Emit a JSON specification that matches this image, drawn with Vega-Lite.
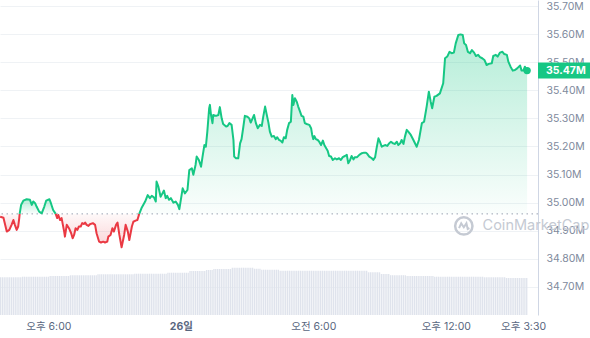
{
"$schema":"https://vega.github.io/schema/vega-lite/v6.json",
"width":538,"height":315,
"autosize":{"type":"none"},
"padding":{"left":0,"top":0,"right":52,"bottom":23},
"background":"white",
"config":{"view":{"stroke":null},"font":"Inter"},
"datasets":{
"price":[
{"t":"2024-01-25T15:49","p":34.950,"s":"r1"},
{"t":"2024-01-25T15:58","p":34.946,"s":"r1"},
{"t":"2024-01-25T16:07","p":34.897,"s":"r1"},
{"t":"2024-01-25T16:14","p":34.903,"s":"r1"},
{"t":"2024-01-25T16:20","p":34.921,"s":"r1"},
{"t":"2024-01-25T16:25","p":34.938,"s":"r1"},
{"t":"2024-01-25T16:29","p":34.921,"s":"r1"},
{"t":"2024-01-25T16:34","p":34.903,"s":"r1"},
{"t":"2024-01-25T16:38","p":34.915,"s":"r1"},
{"t":"2024-01-25T16:41","p":34.946,"s":"r1"},
{"t":"2024-01-25T16:42","p":34.960,"s":"r1"},
{"t":"2024-01-25T16:42","p":34.960,"s":"g1"},
{"t":"2024-01-25T16:46","p":34.992,"s":"g1"},
{"t":"2024-01-25T16:52","p":35.007,"s":"g1"},
{"t":"2024-01-25T17:01","p":35.012,"s":"g1"},
{"t":"2024-01-25T17:10","p":35.010,"s":"g1"},
{"t":"2024-01-25T17:15","p":34.992,"s":"g1"},
{"t":"2024-01-25T17:19","p":35.004,"s":"g1"},
{"t":"2024-01-25T17:24","p":34.998,"s":"g1"},
{"t":"2024-01-25T17:28","p":34.986,"s":"g1"},
{"t":"2024-01-25T17:35","p":34.968,"s":"g1"},
{"t":"2024-01-25T17:42","p":34.962,"s":"g1"},
{"t":"2024-01-25T17:49","p":34.986,"s":"g1"},
{"t":"2024-01-25T17:54","p":35.007,"s":"g1"},
{"t":"2024-01-25T18:03","p":35.012,"s":"g1"},
{"t":"2024-01-25T18:07","p":34.998,"s":"g1"},
{"t":"2024-01-25T18:13","p":34.974,"s":"g1"},
{"t":"2024-01-25T18:20","p":34.960,"s":"g1"},
{"t":"2024-01-25T18:20","p":34.960,"s":"r2"},
{"t":"2024-01-25T18:24","p":34.945,"s":"r2"},
{"t":"2024-01-25T18:27","p":34.956,"s":"r2"},
{"t":"2024-01-25T18:32","p":34.938,"s":"r2"},
{"t":"2024-01-25T18:36","p":34.945,"s":"r2"},
{"t":"2024-01-25T18:43","p":34.897,"s":"r2"},
{"t":"2024-01-25T18:45","p":34.879,"s":"r2"},
{"t":"2024-01-25T18:50","p":34.921,"s":"r2"},
{"t":"2024-01-25T18:56","p":34.909,"s":"r2"},
{"t":"2024-01-25T19:02","p":34.891,"s":"r2"},
{"t":"2024-01-25T19:06","p":34.873,"s":"r2"},
{"t":"2024-01-25T19:10","p":34.885,"s":"r2"},
{"t":"2024-01-25T19:14","p":34.909,"s":"r2"},
{"t":"2024-01-25T19:19","p":34.903,"s":"r2"},
{"t":"2024-01-25T19:23","p":34.915,"s":"r2"},
{"t":"2024-01-25T19:28","p":34.915,"s":"r2"},
{"t":"2024-01-25T19:32","p":34.927,"s":"r2"},
{"t":"2024-01-25T19:37","p":34.924,"s":"r2"},
{"t":"2024-01-25T19:40","p":34.929,"s":"r2"},
{"t":"2024-01-25T19:44","p":34.921,"s":"r2"},
{"t":"2024-01-25T19:49","p":34.917,"s":"r2"},
{"t":"2024-01-25T19:53","p":34.923,"s":"r2"},
{"t":"2024-01-25T20:01","p":34.927,"s":"r2"},
{"t":"2024-01-25T20:07","p":34.921,"s":"r2"},
{"t":"2024-01-25T20:11","p":34.891,"s":"r2"},
{"t":"2024-01-25T20:18","p":34.861,"s":"r2"},
{"t":"2024-01-25T20:23","p":34.858,"s":"r2"},
{"t":"2024-01-25T20:29","p":34.861,"s":"r2"},
{"t":"2024-01-25T20:34","p":34.858,"s":"r2"},
{"t":"2024-01-25T20:40","p":34.861,"s":"r2"},
{"t":"2024-01-25T20:43","p":34.879,"s":"r2"},
{"t":"2024-01-25T20:49","p":34.885,"s":"r2"},
{"t":"2024-01-25T20:54","p":34.909,"s":"r2"},
{"t":"2024-01-25T20:58","p":34.897,"s":"r2"},
{"t":"2024-01-25T21:04","p":34.921,"s":"r2"},
{"t":"2024-01-25T21:08","p":34.929,"s":"r2"},
{"t":"2024-01-25T21:13","p":34.885,"s":"r2"},
{"t":"2024-01-25T21:19","p":34.841,"s":"r2"},
{"t":"2024-01-25T21:26","p":34.885,"s":"r2"},
{"t":"2024-01-25T21:30","p":34.921,"s":"r2"},
{"t":"2024-01-25T21:36","p":34.897,"s":"r2"},
{"t":"2024-01-25T21:40","p":34.867,"s":"r2"},
{"t":"2024-01-25T21:47","p":34.915,"s":"r2"},
{"t":"2024-01-25T21:51","p":34.932,"s":"r2"},
{"t":"2024-01-25T21:57","p":34.936,"s":"r2"},
{"t":"2024-01-25T22:02","p":34.938,"s":"r2"},
{"t":"2024-01-25T22:07","p":34.960,"s":"r2"},
{"t":"2024-01-25T22:07","p":34.960,"s":"g2"},
{"t":"2024-01-25T22:14","p":34.983,"s":"g2"},
{"t":"2024-01-25T22:23","p":35.004,"s":"g2"},
{"t":"2024-01-25T22:30","p":35.027,"s":"g2"},
{"t":"2024-01-25T22:36","p":35.016,"s":"g2"},
{"t":"2024-01-25T22:41","p":35.024,"s":"g2"},
{"t":"2024-01-25T22:47","p":35.019,"s":"g2"},
{"t":"2024-01-25T22:52","p":35.004,"s":"g2"},
{"t":"2024-01-25T22:54","p":35.075,"s":"g2"},
{"t":"2024-01-25T22:59","p":35.057,"s":"g2"},
{"t":"2024-01-25T23:05","p":35.021,"s":"g2"},
{"t":"2024-01-25T23:10","p":35.033,"s":"g2"},
{"t":"2024-01-25T23:14","p":35.043,"s":"g2"},
{"t":"2024-01-25T23:19","p":35.016,"s":"g2"},
{"t":"2024-01-25T23:23","p":35.024,"s":"g2"},
{"t":"2024-01-25T23:28","p":35.010,"s":"g2"},
{"t":"2024-01-25T23:33","p":35.016,"s":"g2"},
{"t":"2024-01-25T23:40","p":35.000,"s":"g2"},
{"t":"2024-01-25T23:46","p":35.004,"s":"g2"},
{"t":"2024-01-25T23:52","p":34.992,"s":"g2"},
{"t":"2024-01-25T23:56","p":34.977,"s":"g2"},
{"t":"2024-01-26T00:00","p":35.010,"s":"g2"},
{"t":"2024-01-26T00:05","p":35.051,"s":"g2"},
{"t":"2024-01-26T00:11","p":35.033,"s":"g2"},
{"t":"2024-01-26T00:18","p":35.045,"s":"g2"},
{"t":"2024-01-26T00:23","p":35.116,"s":"g2"},
{"t":"2024-01-26T00:30","p":35.122,"s":"g2"},
{"t":"2024-01-26T00:34","p":35.099,"s":"g2"},
{"t":"2024-01-26T00:40","p":35.134,"s":"g2"},
{"t":"2024-01-26T00:43","p":35.164,"s":"g2"},
{"t":"2024-01-26T00:49","p":35.152,"s":"g2"},
{"t":"2024-01-26T00:55","p":35.128,"s":"g2"},
{"t":"2024-01-26T00:59","p":35.164,"s":"g2"},
{"t":"2024-01-26T01:04","p":35.205,"s":"g2"},
{"t":"2024-01-26T01:08","p":35.199,"s":"g2"},
{"t":"2024-01-26T01:12","p":35.253,"s":"g2"},
{"t":"2024-01-26T01:17","p":35.336,"s":"g2"},
{"t":"2024-01-26T01:19","p":35.348,"s":"g2"},
{"t":"2024-01-26T01:22","p":35.312,"s":"g2"},
{"t":"2024-01-26T01:26","p":35.283,"s":"g2"},
{"t":"2024-01-26T01:28","p":35.312,"s":"g2"},
{"t":"2024-01-26T01:36","p":35.309,"s":"g2"},
{"t":"2024-01-26T01:42","p":35.312,"s":"g2"},
{"t":"2024-01-26T01:46","p":35.340,"s":"g2"},
{"t":"2024-01-26T01:51","p":35.300,"s":"g2"},
{"t":"2024-01-26T01:55","p":35.280,"s":"g2"},
{"t":"2024-01-26T02:03","p":35.271,"s":"g2"},
{"t":"2024-01-26T02:07","p":35.273,"s":"g2"},
{"t":"2024-01-26T02:12","p":35.283,"s":"g2"},
{"t":"2024-01-26T02:18","p":35.277,"s":"g2"},
{"t":"2024-01-26T02:23","p":35.223,"s":"g2"},
{"t":"2024-01-26T02:25","p":35.164,"s":"g2"},
{"t":"2024-01-26T02:30","p":35.158,"s":"g2"},
{"t":"2024-01-26T02:36","p":35.158,"s":"g2"},
{"t":"2024-01-26T02:41","p":35.211,"s":"g2"},
{"t":"2024-01-26T02:45","p":35.226,"s":"g2"},
{"t":"2024-01-26T02:50","p":35.271,"s":"g2"},
{"t":"2024-01-26T02:54","p":35.309,"s":"g2"},
{"t":"2024-01-26T03:01","p":35.306,"s":"g2"},
{"t":"2024-01-26T03:06","p":35.300,"s":"g2"},
{"t":"2024-01-26T03:10","p":35.285,"s":"g2"},
{"t":"2024-01-26T03:15","p":35.300,"s":"g2"},
{"t":"2024-01-26T03:19","p":35.312,"s":"g2"},
{"t":"2024-01-26T03:24","p":35.283,"s":"g2"},
{"t":"2024-01-26T03:29","p":35.265,"s":"g2"},
{"t":"2024-01-26T03:35","p":35.277,"s":"g2"},
{"t":"2024-01-26T03:40","p":35.273,"s":"g2"},
{"t":"2024-01-26T03:44","p":35.306,"s":"g2"},
{"t":"2024-01-26T03:49","p":35.342,"s":"g2"},
{"t":"2024-01-26T03:53","p":35.316,"s":"g2"},
{"t":"2024-01-26T03:58","p":35.285,"s":"g2"},
{"t":"2024-01-26T04:02","p":35.253,"s":"g2"},
{"t":"2024-01-26T04:07","p":35.235,"s":"g2"},
{"t":"2024-01-26T04:13","p":35.237,"s":"g2"},
{"t":"2024-01-26T04:18","p":35.226,"s":"g2"},
{"t":"2024-01-26T04:22","p":35.233,"s":"g2"},
{"t":"2024-01-26T04:27","p":35.223,"s":"g2"},
{"t":"2024-01-26T04:31","p":35.221,"s":"g2"},
{"t":"2024-01-26T04:36","p":35.214,"s":"g2"},
{"t":"2024-01-26T04:40","p":35.233,"s":"g2"},
{"t":"2024-01-26T04:45","p":35.229,"s":"g2"},
{"t":"2024-01-26T04:49","p":35.259,"s":"g2"},
{"t":"2024-01-26T04:54","p":35.283,"s":"g2"},
{"t":"2024-01-26T04:59","p":35.288,"s":"g2"},
{"t":"2024-01-26T05:03","p":35.383,"s":"g2"},
{"t":"2024-01-26T05:06","p":35.348,"s":"g2"},
{"t":"2024-01-26T05:10","p":35.372,"s":"g2"},
{"t":"2024-01-26T05:15","p":35.359,"s":"g2"},
{"t":"2024-01-26T05:19","p":35.342,"s":"g2"},
{"t":"2024-01-26T05:24","p":35.324,"s":"g2"},
{"t":"2024-01-26T05:28","p":35.309,"s":"g2"},
{"t":"2024-01-26T05:33","p":35.306,"s":"g2"},
{"t":"2024-01-26T05:37","p":35.283,"s":"g2"},
{"t":"2024-01-26T05:42","p":35.280,"s":"g2"},
{"t":"2024-01-26T05:49","p":35.277,"s":"g2"},
{"t":"2024-01-26T05:54","p":35.265,"s":"g2"},
{"t":"2024-01-26T05:57","p":35.241,"s":"g2"},
{"t":"2024-01-26T06:00","p":35.226,"s":"g2"},
{"t":"2024-01-26T06:03","p":35.237,"s":"g2"},
{"t":"2024-01-26T06:07","p":35.226,"s":"g2"},
{"t":"2024-01-26T06:12","p":35.223,"s":"g2"},
{"t":"2024-01-26T06:16","p":35.217,"s":"g2"},
{"t":"2024-01-26T06:21","p":35.205,"s":"g2"},
{"t":"2024-01-26T06:26","p":35.221,"s":"g2"},
{"t":"2024-01-26T06:30","p":35.205,"s":"g2"},
{"t":"2024-01-26T06:35","p":35.194,"s":"g2"},
{"t":"2024-01-26T06:39","p":35.185,"s":"g2"},
{"t":"2024-01-26T06:43","p":35.166,"s":"g2"},
{"t":"2024-01-26T06:48","p":35.164,"s":"g2"},
{"t":"2024-01-26T06:53","p":35.152,"s":"g2"},
{"t":"2024-01-26T06:59","p":35.158,"s":"g2"},
{"t":"2024-01-26T07:04","p":35.154,"s":"g2"},
{"t":"2024-01-26T07:10","p":35.158,"s":"g2"},
{"t":"2024-01-26T07:15","p":35.152,"s":"g2"},
{"t":"2024-01-26T07:20","p":35.162,"s":"g2"},
{"t":"2024-01-26T07:26","p":35.166,"s":"g2"},
{"t":"2024-01-26T07:31","p":35.170,"s":"g2"},
{"t":"2024-01-26T07:35","p":35.140,"s":"g2"},
{"t":"2024-01-26T07:40","p":35.152,"s":"g2"},
{"t":"2024-01-26T07:44","p":35.166,"s":"g2"},
{"t":"2024-01-26T07:49","p":35.154,"s":"g2"},
{"t":"2024-01-26T07:53","p":35.162,"s":"g2"},
{"t":"2024-01-26T07:59","p":35.162,"s":"g2"},
{"t":"2024-01-26T08:05","p":35.170,"s":"g2"},
{"t":"2024-01-26T08:12","p":35.176,"s":"g2"},
{"t":"2024-01-26T08:18","p":35.178,"s":"g2"},
{"t":"2024-01-26T08:23","p":35.178,"s":"g2"},
{"t":"2024-01-26T08:27","p":35.173,"s":"g2"},
{"t":"2024-01-26T08:32","p":35.164,"s":"g2"},
{"t":"2024-01-26T08:39","p":35.158,"s":"g2"},
{"t":"2024-01-26T08:43","p":35.152,"s":"g2"},
{"t":"2024-01-26T08:48","p":35.162,"s":"g2"},
{"t":"2024-01-26T08:52","p":35.194,"s":"g2"},
{"t":"2024-01-26T08:57","p":35.229,"s":"g2"},
{"t":"2024-01-26T09:01","p":35.217,"s":"g2"},
{"t":"2024-01-26T09:06","p":35.199,"s":"g2"},
{"t":"2024-01-26T09:10","p":35.202,"s":"g2"},
{"t":"2024-01-26T09:15","p":35.205,"s":"g2"},
{"t":"2024-01-26T09:21","p":35.202,"s":"g2"},
{"t":"2024-01-26T09:26","p":35.211,"s":"g2"},
{"t":"2024-01-26T09:31","p":35.217,"s":"g2"},
{"t":"2024-01-26T09:37","p":35.211,"s":"g2"},
{"t":"2024-01-26T09:42","p":35.209,"s":"g2"},
{"t":"2024-01-26T09:47","p":35.217,"s":"g2"},
{"t":"2024-01-26T09:51","p":35.205,"s":"g2"},
{"t":"2024-01-26T09:56","p":35.211,"s":"g2"},
{"t":"2024-01-26T10:00","p":35.223,"s":"g2"},
{"t":"2024-01-26T10:05","p":35.209,"s":"g2"},
{"t":"2024-01-26T10:09","p":35.235,"s":"g2"},
{"t":"2024-01-26T10:14","p":35.259,"s":"g2"},
{"t":"2024-01-26T10:18","p":35.253,"s":"g2"},
{"t":"2024-01-26T10:25","p":35.241,"s":"g2"},
{"t":"2024-01-26T10:32","p":35.223,"s":"g2"},
{"t":"2024-01-26T10:41","p":35.199,"s":"g2"},
{"t":"2024-01-26T10:47","p":35.223,"s":"g2"},
{"t":"2024-01-26T10:55","p":35.283,"s":"g2"},
{"t":"2024-01-26T11:01","p":35.288,"s":"g2"},
{"t":"2024-01-26T11:08","p":35.342,"s":"g2"},
{"t":"2024-01-26T11:14","p":35.395,"s":"g2"},
{"t":"2024-01-26T11:19","p":35.359,"s":"g2"},
{"t":"2024-01-26T11:23","p":35.336,"s":"g2"},
{"t":"2024-01-26T11:29","p":35.377,"s":"g2"},
{"t":"2024-01-26T11:35","p":35.380,"s":"g2"},
{"t":"2024-01-26T11:44","p":35.389,"s":"g2"},
{"t":"2024-01-26T11:53","p":35.425,"s":"g2"},
{"t":"2024-01-26T11:58","p":35.514,"s":"g2"},
{"t":"2024-01-26T12:04","p":35.520,"s":"g2"},
{"t":"2024-01-26T12:10","p":35.537,"s":"g2"},
{"t":"2024-01-26T12:16","p":35.532,"s":"g2"},
{"t":"2024-01-26T12:22","p":35.534,"s":"g2"},
{"t":"2024-01-26T12:27","p":35.567,"s":"g2"},
{"t":"2024-01-26T12:34","p":35.597,"s":"g2"},
{"t":"2024-01-26T12:40","p":35.599,"s":"g2"},
{"t":"2024-01-26T12:46","p":35.597,"s":"g2"},
{"t":"2024-01-26T12:50","p":35.567,"s":"g2"},
{"t":"2024-01-26T12:55","p":35.561,"s":"g2"},
{"t":"2024-01-26T13:00","p":35.537,"s":"g2"},
{"t":"2024-01-26T13:06","p":35.532,"s":"g2"},
{"t":"2024-01-26T13:11","p":35.543,"s":"g2"},
{"t":"2024-01-26T13:17","p":35.534,"s":"g2"},
{"t":"2024-01-26T13:22","p":35.522,"s":"g2"},
{"t":"2024-01-26T13:28","p":35.526,"s":"g2"},
{"t":"2024-01-26T13:33","p":35.518,"s":"g2"},
{"t":"2024-01-26T13:39","p":35.514,"s":"g2"},
{"t":"2024-01-26T13:45","p":35.508,"s":"g2"},
{"t":"2024-01-26T13:51","p":35.490,"s":"g2"},
{"t":"2024-01-26T13:57","p":35.494,"s":"g2"},
{"t":"2024-01-26T14:05","p":35.496,"s":"g2"},
{"t":"2024-01-26T14:09","p":35.522,"s":"g2"},
{"t":"2024-01-26T14:16","p":35.526,"s":"g2"},
{"t":"2024-01-26T14:21","p":35.520,"s":"g2"},
{"t":"2024-01-26T14:27","p":35.534,"s":"g2"},
{"t":"2024-01-26T14:34","p":35.537,"s":"g2"},
{"t":"2024-01-26T14:39","p":35.529,"s":"g2"},
{"t":"2024-01-26T14:46","p":35.526,"s":"g2"},
{"t":"2024-01-26T14:50","p":35.502,"s":"g2"},
{"t":"2024-01-26T14:56","p":35.484,"s":"g2"},
{"t":"2024-01-26T15:02","p":35.470,"s":"g2"},
{"t":"2024-01-26T15:08","p":35.472,"s":"g2"},
{"t":"2024-01-26T15:14","p":35.478,"s":"g2"},
{"t":"2024-01-26T15:22","p":35.488,"s":"g2"},
{"t":"2024-01-26T15:26","p":35.470,"s":"g2"},
{"t":"2024-01-26T15:31","p":35.470,"s":"g2"},
{"t":"2024-01-26T15:35","p":35.484,"s":"g2"},
{"t":"2024-01-26T15:41","p":35.470,"s":"g2"}
],
"vol":[
{"t":"2024-01-25T15:50","v":3.77},{"t":"2024-01-25T15:55","v":3.77},{"t":"2024-01-25T16:00","v":3.77},{"t":"2024-01-25T16:05","v":3.77},{"t":"2024-01-25T16:10","v":3.77},{"t":"2024-01-25T16:15","v":3.77},{"t":"2024-01-25T16:20","v":3.77},{"t":"2024-01-25T16:25","v":3.77},{"t":"2024-01-25T16:30","v":3.77},{"t":"2024-01-25T16:35","v":3.77},{"t":"2024-01-25T16:40","v":3.77},{"t":"2024-01-25T16:45","v":3.77},
{"t":"2024-01-25T16:50","v":3.83},{"t":"2024-01-25T16:55","v":3.83},{"t":"2024-01-25T17:00","v":3.83},{"t":"2024-01-25T17:05","v":3.83},{"t":"2024-01-25T17:10","v":3.83},{"t":"2024-01-25T17:15","v":3.83},{"t":"2024-01-25T17:20","v":3.83},{"t":"2024-01-25T17:25","v":3.83},{"t":"2024-01-25T17:30","v":3.83},{"t":"2024-01-25T17:35","v":3.83},{"t":"2024-01-25T17:40","v":3.83},{"t":"2024-01-25T17:45","v":3.83},{"t":"2024-01-25T17:50","v":3.83},{"t":"2024-01-25T17:55","v":3.83},{"t":"2024-01-25T18:00","v":3.83},
{"t":"2024-01-25T18:05","v":3.90},{"t":"2024-01-25T18:10","v":3.90},{"t":"2024-01-25T18:15","v":3.90},{"t":"2024-01-25T18:20","v":3.90},{"t":"2024-01-25T18:25","v":3.90},{"t":"2024-01-25T18:30","v":3.90},{"t":"2024-01-25T18:35","v":3.90},{"t":"2024-01-25T18:40","v":3.90},{"t":"2024-01-25T18:45","v":3.90},{"t":"2024-01-25T18:50","v":3.90},{"t":"2024-01-25T18:55","v":3.90},
{"t":"2024-01-25T19:00","v":3.97},{"t":"2024-01-25T19:05","v":3.97},{"t":"2024-01-25T19:10","v":3.97},{"t":"2024-01-25T19:15","v":3.97},{"t":"2024-01-25T19:20","v":3.97},{"t":"2024-01-25T19:25","v":3.97},{"t":"2024-01-25T19:30","v":3.97},{"t":"2024-01-25T19:35","v":3.97},{"t":"2024-01-25T19:40","v":3.97},{"t":"2024-01-25T19:45","v":3.97},{"t":"2024-01-25T19:50","v":3.97},{"t":"2024-01-25T19:55","v":3.97},{"t":"2024-01-25T20:00","v":3.97},{"t":"2024-01-25T20:05","v":3.97},{"t":"2024-01-25T20:10","v":3.97},
{"t":"2024-01-25T20:15","v":4.07},{"t":"2024-01-25T20:20","v":4.07},{"t":"2024-01-25T20:25","v":4.07},{"t":"2024-01-25T20:30","v":4.07},{"t":"2024-01-25T20:35","v":4.07},{"t":"2024-01-25T20:40","v":4.07},{"t":"2024-01-25T20:45","v":4.07},{"t":"2024-01-25T20:50","v":4.07},{"t":"2024-01-25T20:55","v":4.07},{"t":"2024-01-25T21:00","v":4.07},{"t":"2024-01-25T21:05","v":4.07},{"t":"2024-01-25T21:10","v":4.07},{"t":"2024-01-25T21:15","v":4.07},{"t":"2024-01-25T21:20","v":4.07},{"t":"2024-01-25T21:25","v":4.07},{"t":"2024-01-25T21:30","v":4.07},{"t":"2024-01-25T21:35","v":4.07},{"t":"2024-01-25T21:40","v":4.07},{"t":"2024-01-25T21:45","v":4.07},{"t":"2024-01-25T21:50","v":4.07},
{"t":"2024-01-25T21:55","v":4.13},{"t":"2024-01-25T22:00","v":4.13},{"t":"2024-01-25T22:05","v":4.13},{"t":"2024-01-25T22:10","v":4.13},{"t":"2024-01-25T22:15","v":4.13},{"t":"2024-01-25T22:20","v":4.13},{"t":"2024-01-25T22:25","v":4.13},{"t":"2024-01-25T22:30","v":4.13},{"t":"2024-01-25T22:35","v":4.13},{"t":"2024-01-25T22:40","v":4.13},{"t":"2024-01-25T22:45","v":4.13},{"t":"2024-01-25T22:50","v":4.13},{"t":"2024-01-25T22:55","v":4.13},{"t":"2024-01-25T23:00","v":4.13},{"t":"2024-01-25T23:05","v":4.13},{"t":"2024-01-25T23:10","v":4.13},{"t":"2024-01-25T23:15","v":4.13},{"t":"2024-01-25T23:20","v":4.13},
{"t":"2024-01-25T23:25","v":4.23},{"t":"2024-01-25T23:30","v":4.23},{"t":"2024-01-25T23:35","v":4.23},{"t":"2024-01-25T23:40","v":4.23},{"t":"2024-01-25T23:45","v":4.23},{"t":"2024-01-25T23:50","v":4.23},{"t":"2024-01-25T23:55","v":4.23},{"t":"2024-01-26T00:00","v":4.23},{"t":"2024-01-26T00:05","v":4.23},{"t":"2024-01-26T00:10","v":4.23},{"t":"2024-01-26T00:15","v":4.23},{"t":"2024-01-26T00:20","v":4.23},
{"t":"2024-01-26T00:25","v":4.40},{"t":"2024-01-26T00:30","v":4.40},{"t":"2024-01-26T00:35","v":4.40},{"t":"2024-01-26T00:40","v":4.40},{"t":"2024-01-26T00:45","v":4.40},{"t":"2024-01-26T00:50","v":4.40},{"t":"2024-01-26T00:55","v":4.40},{"t":"2024-01-26T01:00","v":4.40},{"t":"2024-01-26T01:05","v":4.40},
{"t":"2024-01-26T01:10","v":4.50},{"t":"2024-01-26T01:15","v":4.50},{"t":"2024-01-26T01:20","v":4.50},{"t":"2024-01-26T01:25","v":4.50},
{"t":"2024-01-26T01:30","v":4.60},{"t":"2024-01-26T01:35","v":4.60},{"t":"2024-01-26T01:40","v":4.60},{"t":"2024-01-26T01:45","v":4.60},{"t":"2024-01-26T01:50","v":4.60},{"t":"2024-01-26T01:55","v":4.60},{"t":"2024-01-26T02:00","v":4.60},{"t":"2024-01-26T02:05","v":4.60},{"t":"2024-01-26T02:10","v":4.60},{"t":"2024-01-26T02:15","v":4.60},
{"t":"2024-01-26T02:20","v":4.73},{"t":"2024-01-26T02:25","v":4.73},{"t":"2024-01-26T02:30","v":4.73},{"t":"2024-01-26T02:35","v":4.73},{"t":"2024-01-26T02:40","v":4.73},{"t":"2024-01-26T02:45","v":4.73},{"t":"2024-01-26T02:50","v":4.73},{"t":"2024-01-26T02:55","v":4.73},{"t":"2024-01-26T03:00","v":4.73},{"t":"2024-01-26T03:05","v":4.73},{"t":"2024-01-26T03:10","v":4.73},{"t":"2024-01-26T03:15","v":4.73},
{"t":"2024-01-26T03:20","v":4.63},{"t":"2024-01-26T03:25","v":4.63},{"t":"2024-01-26T03:30","v":4.63},{"t":"2024-01-26T03:35","v":4.63},
{"t":"2024-01-26T03:40","v":4.53},{"t":"2024-01-26T03:45","v":4.53},{"t":"2024-01-26T03:50","v":4.53},{"t":"2024-01-26T03:55","v":4.53},{"t":"2024-01-26T04:00","v":4.53},{"t":"2024-01-26T04:05","v":4.53},{"t":"2024-01-26T04:10","v":4.53},{"t":"2024-01-26T04:15","v":4.53},{"t":"2024-01-26T04:20","v":4.53},{"t":"2024-01-26T04:25","v":4.53},
{"t":"2024-01-26T04:30","v":4.43},{"t":"2024-01-26T04:35","v":4.43},{"t":"2024-01-26T04:40","v":4.43},{"t":"2024-01-26T04:45","v":4.43},{"t":"2024-01-26T04:50","v":4.43},{"t":"2024-01-26T04:55","v":4.43},{"t":"2024-01-26T05:00","v":4.43},{"t":"2024-01-26T05:05","v":4.43},{"t":"2024-01-26T05:10","v":4.43},{"t":"2024-01-26T05:15","v":4.43},{"t":"2024-01-26T05:20","v":4.43},{"t":"2024-01-26T05:25","v":4.43},{"t":"2024-01-26T05:30","v":4.43},{"t":"2024-01-26T05:35","v":4.43},{"t":"2024-01-26T05:40","v":4.43},{"t":"2024-01-26T05:45","v":4.43},{"t":"2024-01-26T05:50","v":4.43},{"t":"2024-01-26T05:55","v":4.43},{"t":"2024-01-26T06:00","v":4.43},{"t":"2024-01-26T06:05","v":4.43},{"t":"2024-01-26T06:10","v":4.43},{"t":"2024-01-26T06:15","v":4.43},{"t":"2024-01-26T06:20","v":4.43},{"t":"2024-01-26T06:25","v":4.43},{"t":"2024-01-26T06:30","v":4.43},{"t":"2024-01-26T06:35","v":4.43},{"t":"2024-01-26T06:40","v":4.43},{"t":"2024-01-26T06:45","v":4.43},{"t":"2024-01-26T06:50","v":4.43},{"t":"2024-01-26T06:55","v":4.43},{"t":"2024-01-26T07:00","v":4.43},{"t":"2024-01-26T07:05","v":4.43},{"t":"2024-01-26T07:10","v":4.43},{"t":"2024-01-26T07:15","v":4.43},{"t":"2024-01-26T07:20","v":4.43},{"t":"2024-01-26T07:25","v":4.43},{"t":"2024-01-26T07:30","v":4.43},{"t":"2024-01-26T07:35","v":4.43},{"t":"2024-01-26T07:40","v":4.43},{"t":"2024-01-26T07:45","v":4.43},{"t":"2024-01-26T07:50","v":4.43},{"t":"2024-01-26T07:55","v":4.43},{"t":"2024-01-26T08:00","v":4.43},{"t":"2024-01-26T08:05","v":4.43},{"t":"2024-01-26T08:10","v":4.43},{"t":"2024-01-26T08:15","v":4.43},{"t":"2024-01-26T08:20","v":4.43},{"t":"2024-01-26T08:25","v":4.43},
{"t":"2024-01-26T08:30","v":4.27},{"t":"2024-01-26T08:35","v":4.27},{"t":"2024-01-26T08:40","v":4.27},{"t":"2024-01-26T08:45","v":4.27},{"t":"2024-01-26T08:50","v":4.27},{"t":"2024-01-26T08:55","v":4.27},{"t":"2024-01-26T09:00","v":4.27},
{"t":"2024-01-26T09:05","v":4.10},{"t":"2024-01-26T09:10","v":4.10},{"t":"2024-01-26T09:15","v":4.10},{"t":"2024-01-26T09:20","v":4.10},{"t":"2024-01-26T09:25","v":4.10},
{"t":"2024-01-26T09:30","v":3.98},{"t":"2024-01-26T09:35","v":3.98},{"t":"2024-01-26T09:40","v":3.98},{"t":"2024-01-26T09:45","v":3.98},{"t":"2024-01-26T09:50","v":3.98},{"t":"2024-01-26T09:55","v":3.98},{"t":"2024-01-26T10:00","v":3.98},{"t":"2024-01-26T10:05","v":3.98},{"t":"2024-01-26T10:10","v":3.98},
{"t":"2024-01-26T10:15","v":3.90},{"t":"2024-01-26T10:20","v":3.90},{"t":"2024-01-26T10:25","v":3.90},{"t":"2024-01-26T10:30","v":3.90},{"t":"2024-01-26T10:35","v":3.90},{"t":"2024-01-26T10:40","v":3.90},{"t":"2024-01-26T10:45","v":3.90},{"t":"2024-01-26T10:50","v":3.90},{"t":"2024-01-26T10:55","v":3.90},{"t":"2024-01-26T11:00","v":3.90},{"t":"2024-01-26T11:05","v":3.90},{"t":"2024-01-26T11:10","v":3.90},{"t":"2024-01-26T11:15","v":3.90},{"t":"2024-01-26T11:20","v":3.90},{"t":"2024-01-26T11:25","v":3.90},
{"t":"2024-01-26T11:30","v":3.83},{"t":"2024-01-26T11:35","v":3.83},{"t":"2024-01-26T11:40","v":3.83},{"t":"2024-01-26T11:45","v":3.83},{"t":"2024-01-26T11:50","v":3.83},{"t":"2024-01-26T11:55","v":3.83},{"t":"2024-01-26T12:00","v":3.83},{"t":"2024-01-26T12:05","v":3.83},{"t":"2024-01-26T12:10","v":3.83},{"t":"2024-01-26T12:15","v":3.83},{"t":"2024-01-26T12:20","v":3.83},{"t":"2024-01-26T12:25","v":3.83},{"t":"2024-01-26T12:30","v":3.83},{"t":"2024-01-26T12:35","v":3.83},{"t":"2024-01-26T12:40","v":3.83},{"t":"2024-01-26T12:45","v":3.83},{"t":"2024-01-26T12:50","v":3.83},{"t":"2024-01-26T12:55","v":3.83},{"t":"2024-01-26T13:00","v":3.83},{"t":"2024-01-26T13:05","v":3.83},{"t":"2024-01-26T13:10","v":3.83},{"t":"2024-01-26T13:15","v":3.83},{"t":"2024-01-26T13:20","v":3.83},{"t":"2024-01-26T13:25","v":3.83},{"t":"2024-01-26T13:30","v":3.83},{"t":"2024-01-26T13:35","v":3.83},{"t":"2024-01-26T13:40","v":3.83},
{"t":"2024-01-26T13:45","v":3.77},{"t":"2024-01-26T13:50","v":3.77},{"t":"2024-01-26T13:55","v":3.77},{"t":"2024-01-26T14:00","v":3.77},{"t":"2024-01-26T14:05","v":3.77},{"t":"2024-01-26T14:10","v":3.77},{"t":"2024-01-26T14:15","v":3.77},{"t":"2024-01-26T14:20","v":3.77},{"t":"2024-01-26T14:25","v":3.77},{"t":"2024-01-26T14:30","v":3.77},{"t":"2024-01-26T14:35","v":3.77},{"t":"2024-01-26T14:40","v":3.77},
{"t":"2024-01-26T14:45","v":3.70},{"t":"2024-01-26T14:50","v":3.70},{"t":"2024-01-26T14:55","v":3.70},{"t":"2024-01-26T15:00","v":3.70},{"t":"2024-01-26T15:05","v":3.70},{"t":"2024-01-26T15:10","v":3.70},{"t":"2024-01-26T15:15","v":3.70},{"t":"2024-01-26T15:20","v":3.70},{"t":"2024-01-26T15:25","v":3.70},{"t":"2024-01-26T15:30","v":3.70},{"t":"2024-01-26T15:35","v":3.70},{"t":"2024-01-26T15:40","v":3.70}
]
},
"layer":[
{
"data":{"name":"vol"},
"mark":{"type":"bar","width":1.3,"color":"#dfe3ec"},
"encoding":{
"x":{"field":"t","type":"temporal","title":null,
"scale":{"nice":false,"padding":0,"domain":[{"year":2024,"month":1,"date":25,"hours":15,"minutes":48,"seconds":36},{"year":2024,"month":1,"date":26,"hours":16,"minutes":10,"seconds":36}]},
"axis":{"values":[{"year":2024,"month":1,"date":25,"hours":18},{"year":2024,"month":1,"date":26,"hours":0},{"year":2024,"month":1,"date":26,"hours":6},{"year":2024,"month":1,"date":26,"hours":12},{"year":2024,"month":1,"date":26,"hours":15,"minutes":30}],
"labelExpr":"hours(datum.value) == 0 ? '26일' : (hours(datum.value) < 12 ? '오전 ' : '오후 ') + (hours(datum.value) % 12 == 0 ? 12 : hours(datum.value) % 12) + ':' + timeFormat(datum.value, '%M')",
"labelFontWeight":{"condition":{"test":"hours(datum.value) == 0","value":"bold"},"value":"normal"},
"domain":false,"ticks":false,"grid":false,"labelColor":"#58667e","labelFont":"Inter, Noto Sans CJK KR","labelFontSize":10.5,"labelPadding":6,"labelFlush":false,"labelOverlap":false,"title":null}},
"y":{"field":"v","type":"quantitative","scale":{"domain":[0,31.5]},"axis":null}
}
},
{
"data":{"name":"price"},
"encoding":{
"y":{"field":"p","type":"quantitative","title":null,
"scale":{"domain":[34.6,35.7214],"nice":false,"zero":false},
"axis":{"orient":"right","values":[34.7,34.8,34.9,35.0,35.1,35.2,35.3,35.4,35.5,35.6,35.7],
"labelExpr":"format(datum.value, '.2f') + 'M'","domain":true,"domainColor":"#cfd6e4","ticks":false,
"grid":true,"gridColor":"#eff2f5","labelColor":"#808a9d","labelFont":"Inter","labelFontSize":10.5,"labelPadding":8,"title":null}}
},
"layer":[
{
"transform":[{"filter":"datum.s == 'g1' || datum.s == 'g2'"}],
"mark":{"type":"area","color":{"gradient":"linear","x1":0,"y1":0,"x2":0,"y2":1,"stops":[{"offset":0,"color":"rgba(22,199,132,0.32)"},{"offset":1,"color":"rgba(22,199,132,0.02)"}]}},
"encoding":{"x":{"field":"t","type":"temporal","title":null},"y2":{"datum":34.96},"detail":{"field":"s"}}
},
{
"transform":[{"filter":"datum.s == 'r1' || datum.s == 'r2'"}],
"mark":{"type":"area","color":{"gradient":"linear","x1":0,"y1":0,"x2":0,"y2":1,"stops":[{"offset":0,"color":"rgba(234,57,67,0.03)"},{"offset":1,"color":"rgba(234,57,67,0.22)"}]}},
"encoding":{"x":{"field":"t","type":"temporal","title":null},"y2":{"datum":34.96},"detail":{"field":"s"}}
},
{
"data":{"values":[{"base":34.96}]},
"mark":{"type":"rule","color":"#9aa3b2","strokeDash":[1.5,3.5],"strokeWidth":1},
"encoding":{"y":{"field":"base","type":"quantitative"}}
},
{
"mark":{"type":"line","strokeWidth":2,"strokeJoin":"round"},
"encoding":{"x":{"field":"t","type":"temporal","title":null},
"color":{"field":"s","type":"nominal","scale":{"domain":["r1","g1","r2","g2"],"range":["#ea3943","#16c784","#ea3943","#16c784"]},"legend":null}}
},
{
"data":{"values":[{"t":"2024-01-26T15:41","p":35.47}]},
"mark":{"type":"point","shape":"circle","filled":true,"color":"#16c784","size":55,"opacity":1},
"encoding":{"x":{"field":"t","type":"temporal","title":null}}
},
{
"data":{"values":[{"last":35.47,"label":"35.47M"}]},
"mark":{"type":"point","shape":"M0,-0.3077L2,-0.3077L2,0.3077L0,0.3077Z","filled":true,"color":"#16c784","size":2704,"opacity":1},
"encoding":{"x":{"datum":{"year":2024,"month":1,"date":26,"hours":16,"minutes":10,"seconds":36},"type":"temporal"},"y":{"field":"last","type":"quantitative"}}
},
{
"data":{"values":[{"last":35.47,"label":"35.47M"}]},
"mark":{"type":"text","align":"left","baseline":"middle","dx":8,"color":"white","fontWeight":"bold","fontSize":10.5,"font":"Inter"},
"encoding":{"x":{"datum":{"year":2024,"month":1,"date":26,"hours":16,"minutes":10,"seconds":36},"type":"temporal"},"y":{"field":"last","type":"quantitative"},"text":{"field":"label"}}
},
{
"data":{"values":[{"wm":"CoinMarketCap","wy":34.917}]},
"mark":{"type":"point","shape":"circle","filled":false,"color":"#c5cad3","strokeWidth":2.5,"size":300,"opacity":1},
"encoding":{"x":{"datum":{"year":2024,"month":1,"date":26,"hours":12,"minutes":49},"type":"temporal"},"y":{"field":"wy","type":"quantitative"}}
},
{
"data":{"values":[{"wm":"CoinMarketCap","wy":34.917}]},
"mark":{"type":"point","shape":"M-0.55,0.25L-0.3,-0.3L0,0.15L0.3,-0.3L0.45,0.35L0.65,0.25","filled":false,"color":"#c5cad3","strokeWidth":2,"size":300,"opacity":1},
"encoding":{"x":{"datum":{"year":2024,"month":1,"date":26,"hours":12,"minutes":49},"type":"temporal"},"y":{"field":"wy","type":"quantitative"}}
},
{
"data":{"values":[{"wm":"CoinMarketCap","wy":34.917}]},
"mark":{"type":"text","align":"left","baseline":"middle","color":"#c5cad3","fontSize":14.5,"font":"Inter"},
"encoding":{"x":{"datum":{"year":2024,"month":1,"date":26,"hours":13,"minutes":40},"type":"temporal"},"y":{"field":"wy","type":"quantitative"},"text":{"field":"wm"}}
}
]
}
],
"resolve":{"scale":{"y":"independent"}}
}
